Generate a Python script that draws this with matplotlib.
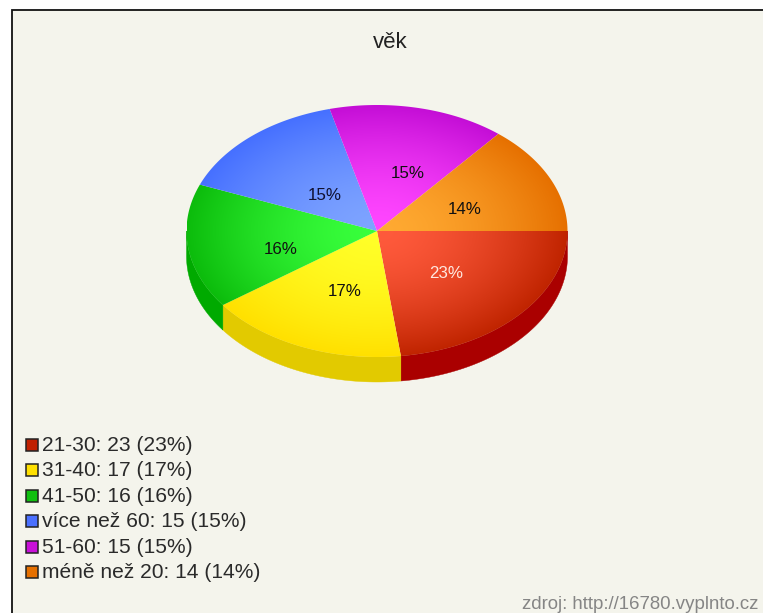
#!/usr/bin/env python3
# -*- coding: utf-8 -*-
import numpy as np
import matplotlib
matplotlib.use("Agg")
import matplotlib.pyplot as plt
from matplotlib.colors import LinearSegmentedColormap
from matplotlib.patches import Polygon, Rectangle

plt.rcParams['font.family'] = ['Liberation Sans', 'DejaVu Sans']

##################################################
categories = ['21-30', '31-40', '41-50', 'více než 60', '51-60', 'méně než 20']
counts = [23, 17, 16, 15, 15, 14]
percents = [23, 17, 16, 15, 15, 14]
title = 'věk'
source = 'zdroj: http://16780.vyplnto.cz'
##################################################
# inner colour, outer colour, side wall, legend swatch
inner = ['#ff5a3c', '#ffff28', '#38ff3c', '#7ea4ff', '#ff46ff', '#ffaa32']
outer = ['#c02400', '#ffe000', '#0cbc0c', '#4670ff', '#c40ed6', '#e67000']
side = ['#aa0000', '#e2ca00', '#00aa00', '#3050d0', '#9000a0', '#b05000']
swatch = ['#c02000', '#ffe000', '#10c010', '#4a70ff', '#c810d8', '#e67000']
text_col = ['#ffe8e0', '#111111', '#111111', '#101030', '#111111', '#111111']

BG = '#f4f4ec'
cx, cy, rx, ry, depth = 377, 231, 190.5, 126, 25
# percent label centres in pixels
label_pos = [(446, 274), (345, 291), (281, 250), (325, 195), (408, 174), (465, 210)]

fig = plt.figure(figsize=(7.63, 6.13), dpi=100, facecolor='white')
ax = fig.add_axes([0, 0, 1, 1])
ax.set_xlim(0, 763)
ax.set_ylim(613, 0)
ax.axis('off')

# panel with black frame on top and left
ax.add_patch(Rectangle((12, 10), 760, 620, facecolor=BG, edgecolor='#111111', linewidth=1.3, zorder=0))


def arc(a0, a1, dy=0):
    t = np.radians(np.linspace(a0, a1, 200))
    return np.column_stack([cx + rx * np.cos(t), cy + dy + ry * np.sin(t)])


edges = np.concatenate([[0], np.cumsum(percents)]) * 360.0 / np.sum(percents)

# side wall, only the front half shows
for i in range(len(counts)):
    a0, a1 = edges[i], min(edges[i + 1], 180)
    if a0 >= 180:
        continue
    top = arc(a0, a1)
    wall = np.vstack([top, arc(a0, a1, depth)[::-1]])
    ax.add_patch(Polygon(wall, closed=True, facecolor=side[i], edgecolor=side[i], linewidth=0.3, zorder=1))

# top face, radial gradient from the centre of the pie
xx, yy = np.meshgrid(np.linspace(-1, 1, 500), np.linspace(-1, 1, 500))
rr = np.clip(np.hypot(xx, yy), 0, 1) ** 1.6
extent = [cx - rx, cx + rx, cy + ry, cy - ry]
for i in range(len(counts)):
    pts = np.vstack([[cx, cy], arc(edges[i], edges[i + 1])])
    poly = Polygon(pts, closed=True, facecolor='none', edgecolor='none', transform=ax.transData)
    ax.add_patch(poly)
    cmap = LinearSegmentedColormap.from_list('s%d' % i, [inner[i], outer[i]])
    im = ax.imshow(rr, cmap=cmap, vmin=0, vmax=1, extent=extent, aspect='auto', zorder=2, interpolation='bilinear')
    im.set_clip_path(poly)
    ax.text(label_pos[i][0], label_pos[i][1], '%d%%' % percents[i], color=text_col[i], fontsize=12.2,
            ha='center', va='center', zorder=3)

ax.set_xlim(0, 763)
ax.set_ylim(613, 0)

ax.text(390, 42, title, fontsize=16, color='#222222', ha='center', va='center')

# legend
for i in range(len(categories)):
    y = 445 + i * 25.4
    ax.add_patch(Rectangle((26, y - 6), 12, 12, facecolor=swatch[i], edgecolor='#222222', linewidth=1.1, zorder=3))
    ax.text(42, y + 0.5, '%s: %d (%d%%)' % (categories[i], counts[i], percents[i]), fontsize=15.1,
            color='#2a2a2a', ha='left', va='center')

ax.text(758, 604.5, source, fontsize=13.4, color='#858585', ha='right', va='center')

fig.savefig('out.png', dpi=100, facecolor='white')
